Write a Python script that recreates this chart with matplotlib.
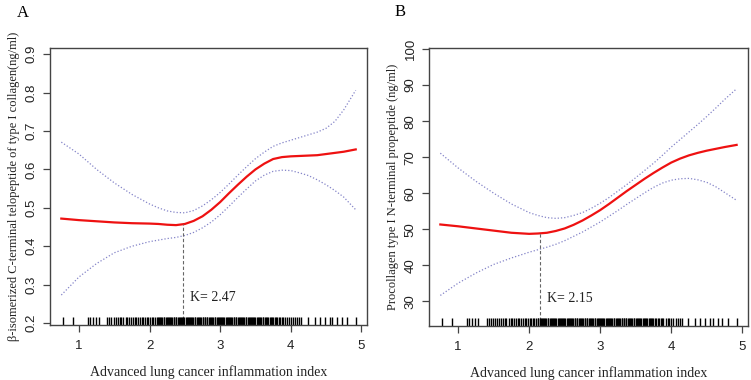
import matplotlib
matplotlib.use("Agg")
import matplotlib.pyplot as plt
import matplotlib.transforms as mtransforms

# shared x grid for the fitted curves (ALI)
ali = [0.75, 1.0, 1.25, 1.5, 1.75, 2.0, 2.125, 2.25, 2.375, 2.5, 2.625, 2.75,
       2.875, 3.0, 3.125, 3.25, 3.375, 3.5, 3.625, 3.75, 3.875, 4.0, 4.125,
       4.25, 4.375, 4.5, 4.625, 4.75, 4.92]

# panel A: beta-CTX
ctx_fit = [0.472, 0.468, 0.465, 0.462, 0.460, 0.459, 0.458, 0.456, 0.455, 0.458,
           0.466, 0.478, 0.495, 0.515, 0.538, 0.560, 0.581, 0.600, 0.615, 0.627,
           0.632, 0.634, 0.635, 0.636, 0.637, 0.640, 0.643, 0.646, 0.652]
ctx_upper = [0.671, 0.640, 0.600, 0.565, 0.535, 0.510, 0.500, 0.492, 0.488, 0.487,
             0.493, 0.505, 0.521, 0.540, 0.562, 0.585, 0.607, 0.628, 0.645, 0.660,
             0.669, 0.676, 0.683, 0.690, 0.697, 0.707, 0.725, 0.755, 0.806]
ctx_lower = [0.273, 0.320, 0.355, 0.383, 0.400, 0.412, 0.416, 0.420, 0.423, 0.428,
             0.436, 0.448, 0.463, 0.482, 0.504, 0.527, 0.549, 0.570, 0.585, 0.595,
             0.598, 0.597, 0.591, 0.584, 0.573, 0.560, 0.545, 0.528, 0.495]
ctx_k = 2.47
ctx_k_y = 0.457

# panel B: PINP
pinp_fit = [51.3, 50.8, 50.2, 49.6, 49.0, 48.7, 48.8, 49.0, 49.5, 50.2,
            51.2, 52.4, 53.8, 55.3, 57.0, 58.8, 60.6, 62.3, 64.0, 65.6,
            67.1, 68.5, 69.6, 70.5, 71.2, 71.8, 72.3, 72.8, 73.4]
pinp_upper = [71.1, 67.0, 63.3, 60.0, 57.0, 54.6, 53.8, 53.2, 53.0, 53.2,
              53.8, 54.6, 55.8, 57.2, 58.8, 60.6, 62.4, 64.3, 66.3, 68.3,
              70.5, 72.8, 74.9, 77.0, 79.1, 81.3, 83.6, 86.0, 89.0]
pinp_lower = [31.6, 35.0, 37.8, 40.2, 42.0, 43.6, 44.3, 45.0, 45.8, 46.8,
              48.0, 49.2, 50.6, 52.0, 53.6, 55.2, 56.9, 58.5, 60.1, 61.6,
              62.8, 63.6, 64.0, 64.1, 63.7, 63.0, 61.8, 60.2, 58.0]
pinp_k = 2.15
pinp_k_y = 48.8

# rug of observed ALI values
rug_x = [0.77, 0.91, 1.13, 1.16, 1.20, 1.24, 1.28, 1.40, 1.43, 1.46, 1.49,
         1.52, 1.55, 1.58, 1.60, 1.63, 1.66, 1.68, 1.71, 1.74, 1.76, 1.79, 1.81,
         1.84, 1.86, 1.89, 1.91, 1.94, 1.96, 1.98, 2.01, 2.03, 2.05, 2.07,
         2.10, 2.12, 2.13, 2.15, 2.16, 2.18, 2.20, 2.21, 2.23, 2.24, 2.26, 2.27,
         2.29, 2.31, 2.32, 2.34, 2.35, 2.37, 2.38, 2.40, 2.42, 2.43, 2.45, 2.46,
         2.48, 2.49, 2.51, 2.53, 2.54, 2.56, 2.57, 2.59, 2.60, 2.62, 2.64, 2.65,
         2.67, 2.68, 2.70, 2.71, 2.73, 2.75, 2.76, 2.78, 2.79, 2.81, 2.82, 2.84,
         2.86, 2.87, 2.89, 2.90, 2.92, 2.93, 2.95, 2.97, 2.98, 3.00, 3.01, 3.03,
         3.04, 3.06, 3.08, 3.09, 3.11, 3.12, 3.14, 3.15, 3.17, 3.19, 3.20, 3.22,
         3.23, 3.25, 3.26, 3.28, 3.30, 3.31, 3.33, 3.34, 3.36, 3.37, 3.39, 3.41,
         3.42, 3.44, 3.45, 3.47, 3.48, 3.50, 3.52, 3.53, 3.55, 3.56, 3.58, 3.60,
         3.61, 3.63, 3.65, 3.66, 3.68, 3.70, 3.72, 3.73, 3.75, 3.77, 3.79, 3.81,
         3.83, 3.85, 3.87, 3.89, 3.92, 3.95, 3.97, 4.00, 4.03, 4.06, 4.09, 4.12,
         4.15, 4.24, 4.34, 4.41, 4.48, 4.55, 4.59, 4.66, 4.72, 4.80, 4.92]

serif = "Liberation Serif"
sans = "Liberation Sans"
ci_color = "#8484c8"
frame = "#444444"


def panel(ax, fit, upper, lower, k, k_y, ylim, yticks, ylabel):
    ax.plot(ali, upper, color=ci_color, lw=0.9, ls=(0, (1, 1.6)))
    ax.plot(ali, lower, color=ci_color, lw=0.9, ls=(0, (1, 1.6)))
    ax.plot(ali, fit, color="#ee1111", lw=1.6)
    ax.plot([k, k], [ylim[0], k_y], color="#666666", lw=0.8, ls=(0, (3, 2)))
    trans = mtransforms.blended_transform_factory(ax.transData, ax.transAxes)
    ax.vlines(rug_x, 0, 0.03, transform=trans, color="black", lw=1.0)
    ax.text(k + 0.1, ylim[0] + 0.1 * (ylim[1] - ylim[0]), f"K= {k:.2f}",
            family=serif, fontsize=10, color="#222222", va="center")
    ax.set_xlim(0.59, 5.08)
    ax.set_ylim(*ylim)
    ax.set_xticks([1, 2, 3, 4, 5])
    ax.set_yticks(yticks)
    ax.set_yticklabels([f"{t:g}" for t in yticks], rotation=90, va="center")
    for lab in ax.get_xticklabels() + ax.get_yticklabels():
        lab.set_family(sans)
        lab.set_fontsize(9.5)
        lab.set_color("#222222")
    ax.tick_params(length=5, width=0.9, color=frame)
    ax.tick_params(axis="x", pad=6)
    ax.tick_params(axis="y", pad=4)
    for s in ax.spines.values():
        s.set_color(frame)
        s.set_linewidth(1.0)
    ax.set_xlabel("Advanced lung cancer inflammation index", family=serif,
                  fontsize=10, color="#222222", labelpad=9)
    ax.set_ylabel(ylabel, family=serif, fontsize=9, color="#222222", labelpad=4)


fig = plt.figure(figsize=(7.51, 3.8), dpi=100)
ax1 = fig.add_axes([0.0666, 0.1447, 0.4221, 0.729])
ax2 = fig.add_axes([0.5712, 0.142, 0.4248, 0.7316])

panel(ax1, ctx_fit, ctx_upper, ctx_lower, ctx_k, ctx_k_y, (0.195, 0.916),
      [0.2, 0.3, 0.4, 0.5, 0.6, 0.7, 0.8, 0.9],
      "β-isomerized C-terminal telopeptide of type I collagen(ng/ml)")
panel(ax2, pinp_fit, pinp_upper, pinp_lower, pinp_k, pinp_k_y, (23.1, 100.3),
      [30, 40, 50, 60, 70, 80, 90, 100],
      "Procollagen type I N-terminal propeptide (ng/ml)")

fig.text(0.022, 0.965, "A", family=serif, fontsize=12, va="center")
fig.text(0.525, 0.968, "B", family=serif, fontsize=12, va="center")

fig.savefig("out.png", dpi=100)
